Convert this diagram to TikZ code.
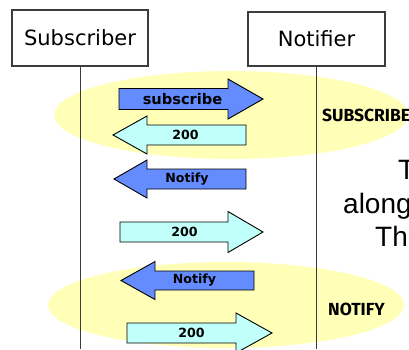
\documentclass[tikz,border=0pt]{standalone}
\usepackage{fontspec}
\setmainfont{DejaVu Sans}
\newfontfamily\capfont{Fira Sans}
\newfontfamily\slidefont{Liberation Sans}
\definecolor{ybg}{RGB}{255,255,184}
\definecolor{blu}{RGB}{100,140,255}
\definecolor{cyn}{RGB}{192,255,250}
\definecolor{lnc}{RGB}{60,60,60}
% tail x, head-base x, tip x, centre y, body half-height, head half-height, fill
\newcommand{\msgarrow}[7]{%
  \draw[arrowshape,fill=#7] (#1,{#4-#5}) -- (#2,{#4-#5}) -- (#2,{#4-#6}) -- (#3,#4)
    -- (#2,{#4+#6}) -- (#2,{#4+#5}) -- (#1,{#4+#5}) -- cycle;}
\begin{document}
\begin{tikzpicture}[x=1pt,y=-1pt,
  actor/.style={draw=lnc,line width=1.1pt,fill=white,inner sep=0pt,font=\fontsize{21}{24}\selectfont},
  lifeline/.style={draw=lnc,line width=1pt},
  arrowshape/.style={draw=black,line width=0.9pt,line join=miter},
  msglabel/.style={inner sep=0pt,font=\fontsize{12.6}{15}\selectfont\bfseries},
  biglabel/.style={msglabel,font=\fontsize{14.6}{16}\selectfont\bfseries},
  phase/.style={inner sep=0pt,anchor=west,font=\capfont\fontsize{17.5}{19}\selectfont\bfseries},
  slide/.style={inner sep=0pt,anchor=base west,font=\slidefont\fontsize{28}{32}\selectfont},
  blob/.style={fill=ybg,draw=none}]
\useasboundingbox (0,0) rectangle (409,349);
\clip (0,0) rectangle (409,349);
% highlighted phases
\fill[blob] (231,115) ellipse [x radius=177, y radius=44];
\fill[blob] (226,305) ellipse [x radius=178, y radius=43];
% actors
\node[actor,minimum width=136pt,minimum height=56pt] (sub) at (80,38) {Subscriber};
\node[actor,minimum width=137pt,minimum height=54pt] (not) at (316.5,39) {Notifier};
\coordinate (subend) at (sub.south |- 0,349);
\coordinate (notend) at (not.south |- 0,349);
\draw[lifeline] (sub.south) -- (subend);
\draw[lifeline] (not.south) -- (notend);
% messages
\msgarrow{119}{228}{263}{99}{10.5}{20}{blu}
\node[biglabel] (m1) at (182.5,99) {subscribe};
\msgarrow{246}{147}{113}{135}{10}{19}{cyn}
\node[msglabel] (m2) at (185.5,135) {200};
\msgarrow{246}{147}{114}{179}{10}{19}{blu}
\node[msglabel] (m3) at (187,179) {Notify};
\msgarrow{120}{228}{263}{232}{10}{20.5}{cyn}
\node[msglabel] (m4) at (184.5,232) {200};
\msgarrow{254}{155}{121}{280.5}{9.5}{19}{blu}
\node[msglabel] (m5) at (194.5,280.5) {Notify};
\msgarrow{127}{236}{272}{333}{10}{20}{cyn}
\node[msglabel] (m6) at (191.5,333) {200};
% phase labels
\node[phase] (p1) at (322,115) {SUBSCRIBE};
\node[phase] (p2) at (328,309) {NOTIFY};
% partly hidden slide text
\node[slide] (t1) at (398,179) {T};
\node[slide] (t2) at (343,213) {along};
\node[slide] (t3) at (375,246) {The};
\end{tikzpicture}
\end{document}
